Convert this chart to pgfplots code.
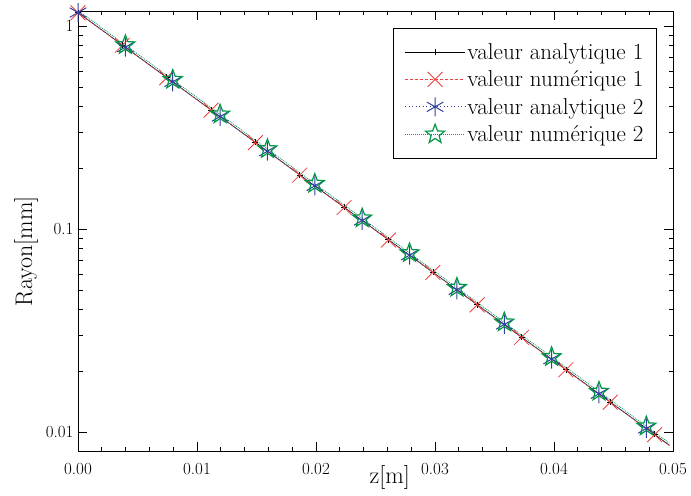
\documentclass[border=0pt]{standalone}
\usepackage{pgfplots}
\pgfplotsset{compat=1.18}
\usetikzlibrary{plotmarks}
\definecolor{cred}{RGB}{240,64,64}
\definecolor{cblue}{RGB}{48,64,160}
\definecolor{cgreen}{RGB}{0,150,70}
\pgfdeclareplotmark{ostar}{%
  \pgfpathmoveto{\pgfpointpolar{90}{\pgfplotmarksize}}%
  \pgfpathlineto{\pgfpointpolar{126}{0.42\pgfplotmarksize}}%
  \pgfpathlineto{\pgfpointpolar{162}{\pgfplotmarksize}}%
  \pgfpathlineto{\pgfpointpolar{198}{0.42\pgfplotmarksize}}%
  \pgfpathlineto{\pgfpointpolar{234}{\pgfplotmarksize}}%
  \pgfpathlineto{\pgfpointpolar{270}{0.42\pgfplotmarksize}}%
  \pgfpathlineto{\pgfpointpolar{306}{\pgfplotmarksize}}%
  \pgfpathlineto{\pgfpointpolar{342}{0.42\pgfplotmarksize}}%
  \pgfpathlineto{\pgfpointpolar{18}{\pgfplotmarksize}}%
  \pgfpathlineto{\pgfpointpolar{54}{0.42\pgfplotmarksize}}%
  \pgfpathclose
  \pgfusepathqstroke}
\begin{document}
\begin{tikzpicture}
\begin{axis}[
  scale only axis,
  width=595pt, height=440pt,
  ymode=log,
  xmin=0, xmax=0.05,
  ymin=0.00806, ymax=1.186,
  scaled x ticks=false,
  xtick={0,0.01,0.02,0.03,0.04,0.05},
  xticklabels={0.00,0.01,0.02,0.03,0.04,0.05},
  minor x tick num=4,
  ytick={0.01,0.1,1},
  yticklabels={0.01,0.1,1},
  tick align=inside,
  major tick length=9pt,
  minor tick length=4.5pt,
  axis line style={line width=0.8pt},
  every tick/.style={black, line width=0.7pt},
  tick label style={font=\fontsize{17}{20}\selectfont},
  xticklabel style={yshift=-9pt},
  yticklabel style={xshift=-1pt},
  label style={font=\fontsize{24}{28}\selectfont},
  xlabel={z[m]},
  ylabel={Rayon[mm]},
  xlabel style={at={(axis description cs:0.524,-0.061)}, anchor=center},
  ylabel style={at={(axis description cs:-0.087,0.4545)}, anchor=center},
  legend style={at={(0.973,0.962)}, anchor=north east, draw=black, line width=0.8pt,
    font=\fontsize{23}{24}\selectfont, inner xsep=11pt, inner ysep=13pt,
    row sep=6pt, cells={anchor=west},
    /tikz/every even column/.append style={column sep=4pt}},
  legend image code/.code={\draw[mark repeat=2,mark phase=2,#1] plot coordinates {(0pt,0pt) (30pt,0pt) (60pt,0pt)};},
]
\addplot[black, line width=0.6pt, mark=+, mark size=3pt, mark options={solid}] coordinates {
(0,1.1654) (0.003727,0.8064) (0.007454,0.5580) (0.011181,0.3862) (0.014908,0.2673)
(0.018635,0.1849) (0.022362,0.1280) (0.026089,0.08858) (0.029816,0.06130)
(0.033543,0.04242) (0.03727,0.02935) (0.040997,0.02031) (0.044724,0.01405)
(0.048451,0.009727)};
\addlegendentry{valeur analytique 1}
\addplot[cred, line width=0.6pt, dash pattern=on 3pt off 2pt, mark=x, mark size=10.5pt, mark options={solid, line width=0.8pt}] coordinates {
(0,1.1620) (0.003727,0.8040) (0.007454,0.5563) (0.011181,0.3850) (0.014908,0.2665)
(0.018635,0.1843) (0.022362,0.1276) (0.026089,0.08831) (0.029816,0.06111)
(0.033543,0.04229) (0.03727,0.02926) (0.040997,0.02025) (0.044724,0.01401)
(0.048451,0.009698)};
\addlegendentry{valeur num\'erique 1}
\addplot[cblue, line width=0.7pt, dash pattern=on 1pt off 2.5pt, mark=asterisk, mark size=9.5pt, mark options={solid, line width=1pt}] coordinates {
(0,1.1654) (0.00398,0.7866) (0.00796,0.5309) (0.01194,0.3583) (0.01592,0.2418)
(0.0199,0.1632) (0.02388,0.1102) (0.02786,0.07435) (0.03184,0.05018)
(0.03582,0.03387) (0.0398,0.02286) (0.04378,0.01543) (0.04776,0.01041)};
\addlegendentry{valeur analytique 2}
\addplot[cgreen, line width=0.7pt, dash pattern=on 1pt off 1pt, mark=ostar, mark size=10pt, mark options={solid, line width=1.2pt}] coordinates {
(0,1.1945) (0.00398,0.8063) (0.00796,0.5442) (0.01194,0.3673) (0.01592,0.2478)
(0.0199,0.1673) (0.02388,0.1130) (0.02786,0.07621) (0.03184,0.05143)
(0.03582,0.03472) (0.0398,0.02343) (0.04378,0.01582) (0.04776,0.01067)};
\addlegendentry{valeur num\'erique 2}
% tails of the curves to the right border
\addplot[black, line width=0.6pt, forget plot] coordinates {(0.048451,0.009727) (0.0497,0.008599)};
\addplot[cred, line width=0.6pt, dash pattern=on 3pt off 2pt, forget plot] coordinates {(0.048451,0.009698) (0.0497,0.008573)};
\addplot[cblue, line width=0.7pt, dash pattern=on 1pt off 2.5pt, forget plot] coordinates {(0.04776,0.01041) (0.0497,0.008599)};
\addplot[cgreen, line width=0.7pt, dash pattern=on 1pt off 1pt, forget plot] coordinates {(0.04776,0.01067) (0.0497,0.00881)};
\end{axis}
\path (current axis.south west) ++(-78pt,-44pt) coordinate (bl);
\path (current axis.north east) ++(18pt,11pt) coordinate (tr);
\path (bl) rectangle (tr);
\end{tikzpicture}
\end{document}
